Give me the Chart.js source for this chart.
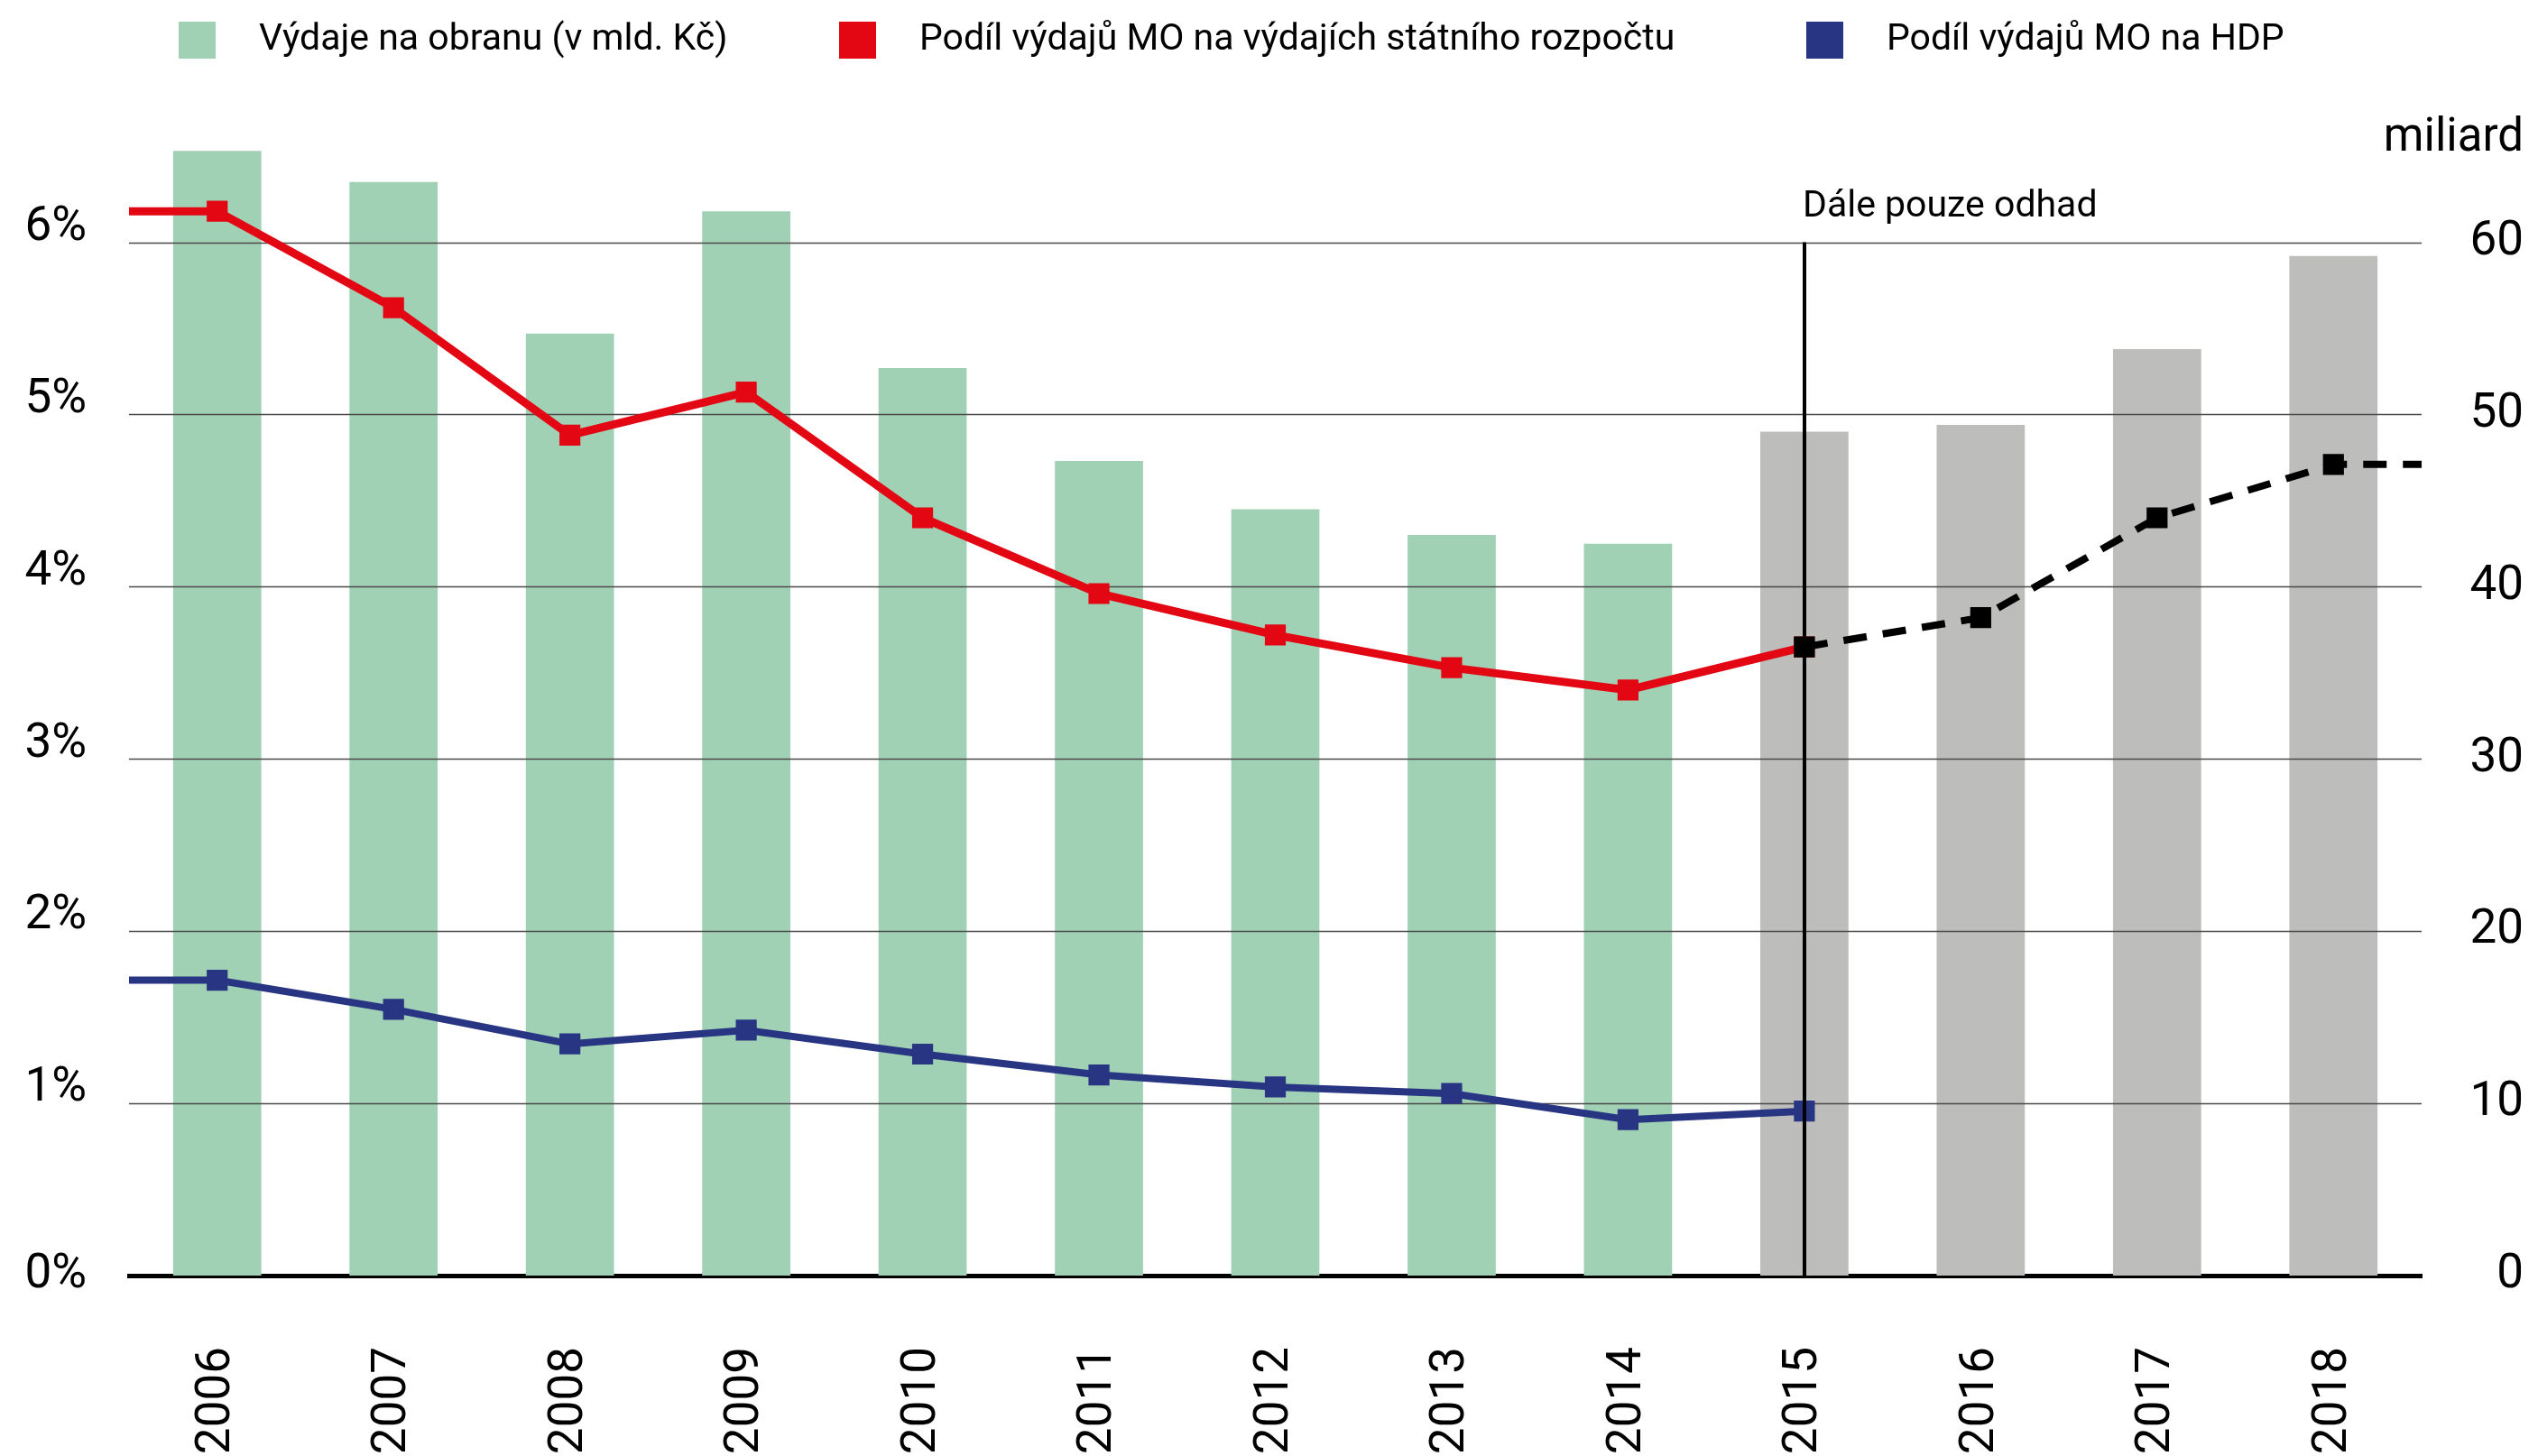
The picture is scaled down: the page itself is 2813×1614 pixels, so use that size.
<!DOCTYPE html>
<html>
<head>
<meta charset="utf-8">
<script src="https://cdn.jsdelivr.net/npm/chart.js@4.4.1/dist/chart.umd.min.js"></script>
<style>
  html, body { margin: 0; padding: 0; background: #ffffff; }
  canvas { display: block; }
</style>
</head>
<body>
<canvas id="chart" width="2813" height="1614"></canvas>
<script>
// ---------------- data ----------------
const years = ['2006','2007','2008','2009','2010','2011','2012','2013','2014','2015','2016','2017','2018'];
// Výdaje na obranu (mld. Kč)
const defenceSpending = [65.3, 63.5, 54.7, 61.8, 52.7, 47.3, 44.5, 43.0, 42.5, 49.0, 49.4, 53.8, 59.2];
// Podíl výdajů MO na výdajích státního rozpočtu (%), 2006–2015
const shareOfBudget = [6.18, 5.62, 4.88, 5.13, 4.40, 3.96, 3.72, 3.53, 3.40, 3.65];
// Odhad podílu na výdajích státního rozpočtu (%), 2015–2018
const shareOfBudgetForecast = [3.65, 3.82, 4.40, 4.71];
// Podíl výdajů MO na HDP (%), 2006–2015
const shareOfGdp = [1.715, 1.546, 1.345, 1.425, 1.286, 1.165, 1.095, 1.057, 0.905, 0.955];
const forecastStartYear = '2015';
const percentTicks = [0, 1, 2, 3, 4, 5, 6];
const billionTicks = [0, 10, 20, 30, 40, 50, 60];
const seriesLabels = [
  'Výdaje na obranu (v mld. Kč)',
  'Podíl výdajů MO na výdajích státního rozpočtu',
  'Podíl výdajů MO na HDP'
];
const forecastNote = 'Dále pouze odhad';
const rightAxisTitle = 'miliard';

// ---------------- styles ----------------
const GREEN = '#a1d1b5';
const GRAY = '#bdbdbc';
const RED = '#e30613';
const BLUE = '#283583';
const BLACK = '#000000';
const FONT = 'Roboto';

const forecastIdx = years.indexOf(forecastStartYear);

function pointsFrom(values, startIdx, extendLeft, extendRight) {
  const pts = values.map((v, i) => ({ x: startIdx + i, y: v }));
  if (extendLeft) pts.unshift({ x: startIdx - 0.5, y: values[0] });
  if (extendRight) pts.push({ x: startIdx + values.length - 0.5, y: values[values.length - 1] });
  return pts;
}

const markerRadius = (ctx) => (ctx.raw && Number.isInteger(ctx.raw.x)) ? 15 : 0;

// ---------------- plugins ----------------
const gridOverBars = {
  id: 'gridOverBars',
  afterDatasetDraw(chart, args) {
    if (args.meta.type !== 'bar') return;
    const { ctx, chartArea } = chart;
    const ys = chart.scales.y;
    ctx.save();
    ctx.strokeStyle = '#4a4a4a';
    ctx.lineWidth = 1.5;
    percentTicks.filter(v => v > 0).forEach(v => {
      const y = Math.round(ys.getPixelForValue(v)) + 0.5;
      ctx.beginPath();
      ctx.moveTo(chartArea.left, y);
      ctx.lineTo(chartArea.right, y);
      ctx.stroke();
    });
    ctx.restore();
  }
};

const forecastMarker = {
  id: 'forecastMarker',
  afterDatasetsDraw(chart) {
    const { ctx } = chart;
    const xs = chart.scales.x;
    const ys = chart.scales.y;
    const px = Math.round(xs.getPixelForValue(forecastIdx));
    const top = ys.getPixelForValue(percentTicks[percentTicks.length - 1]);
    const bottom = ys.getPixelForValue(0);
    ctx.save();
    ctx.strokeStyle = BLACK;
    ctx.lineWidth = 4;
    ctx.beginPath();
    ctx.moveTo(px, top);
    ctx.lineTo(px, bottom);
    ctx.stroke();
    ctx.fillStyle = BLACK;
    ctx.font = '41px ' + FONT;
    ctx.textAlign = 'left';
    ctx.textBaseline = 'alphabetic';
    ctx.fillText(forecastNote, px - 2, top - 29);
    ctx.restore();
  }
};

const headerTexts = {
  id: 'headerTexts',
  afterDraw(chart) {
    const { ctx } = chart;
    const y2 = chart.scales.y2;
    ctx.save();
    // right axis unit
    ctx.fillStyle = BLACK;
    ctx.font = '51px ' + FONT;
    ctx.textAlign = 'right';
    ctx.textBaseline = 'alphabetic';
    ctx.fillText(rightAxisTitle, y2.right, y2.getPixelForValue(billionTicks[billionTicks.length - 1]) - 102);
    // legend
    const legendX = [198, 930, 2002];
    const colors = [GREEN, RED, BLUE];
    ctx.font = '41px ' + FONT;
    ctx.textAlign = 'left';
    seriesLabels.forEach((label, i) => {
      ctx.fillStyle = colors[i];
      ctx.fillRect(legendX[i], 24, 41, 41);
      ctx.fillStyle = BLACK;
      ctx.fillText(label, legendX[i] + 89, 55);
    });
    ctx.restore();
  }
};

// ---------------- chart ----------------
const chart = new Chart(document.getElementById('chart'), {
  type: 'bar',
  data: {
    labels: years,
    datasets: [
      {
        type: 'line',
        label: 'odhad',
        data: pointsFrom(shareOfBudgetForecast, forecastIdx, false, true),
        xAxisID: 'xl',
        yAxisID: 'y',
        borderColor: BLACK,
        backgroundColor: BLACK,
        borderWidth: 8,
        borderDash: [26, 18],
        borderCapStyle: 'butt',
        pointStyle: 'rect',
        pointRadius: markerRadius,
        pointBorderWidth: 2,
        pointBorderColor: BLACK,
        pointBackgroundColor: BLACK,
        tension: 0,
        order: 0
      },
      {
        type: 'line',
        label: seriesLabels[1],
        data: pointsFrom(shareOfBudget, 0, true, false),
        xAxisID: 'xl',
        yAxisID: 'y',
        borderColor: RED,
        backgroundColor: RED,
        borderWidth: 9,
        borderJoinStyle: 'miter',
        pointStyle: 'rect',
        pointRadius: markerRadius,
        pointBorderWidth: 2,
        pointBorderColor: RED,
        pointBackgroundColor: RED,
        tension: 0,
        order: 2
      },
      {
        type: 'line',
        label: seriesLabels[2],
        data: pointsFrom(shareOfGdp, 0, true, false),
        xAxisID: 'xl',
        yAxisID: 'y',
        borderColor: BLUE,
        backgroundColor: BLUE,
        borderWidth: 8,
        borderJoinStyle: 'miter',
        pointStyle: 'rect',
        pointRadius: markerRadius,
        pointBorderWidth: 2,
        pointBorderColor: BLUE,
        pointBackgroundColor: BLUE,
        tension: 0,
        order: 1
      },
      {
        type: 'bar',
        label: seriesLabels[0],
        data: defenceSpending,
        xAxisID: 'x',
        yAxisID: 'y2',
        backgroundColor: years.map((y, i) => i >= forecastIdx ? GRAY : GREEN),
        borderWidth: 0,
        grouped: false,
        categoryPercentage: 1,
        barPercentage: 0.5,
        order: 10
      }
    ]
  },
  options: {
    responsive: false,
    animation: false,
    devicePixelRatio: 1,
    layout: { padding: { top: 154, right: 16, left: 0, bottom: 0 } },
    plugins: {
      legend: { display: false },
      tooltip: { enabled: false },
      title: { display: false }
    },
    scales: {
      x: {
        type: 'category',
        position: 'bottom',
        offset: true,
        z: 1,
        grid: { display: false, drawTicks: false },
        border: { display: true, color: BLACK, width: 5 },
        ticks: {
          autoSkip: false,
          maxRotation: 90,
          minRotation: 90,
          padding: 79,
          color: BLACK,
          font: { family: FONT, size: 53 }
        },
        afterFit: (s) => { s.height = 200; }
      },
      xl: {
        type: 'linear',
        display: false,
        offset: false,
        grid: { offset: false },
        bounds: 'data',
        min: -0.5,
        max: years.length - 0.5
      },
      y: {
        type: 'linear',
        position: 'left',
        min: 0,
        max: 6.6,
        grid: { display: false, drawTicks: false },
        border: { display: false },
        ticks: {
          stepSize: 1,
          padding: 47,
          color: BLACK,
          font: { family: FONT, size: 53, lineHeight: '32px' },
          callback: (v) => {
            if (!percentTicks.includes(v)) return null;
            return v === 0 ? v + '%' : [v + '%', ''];
          }
        },
        afterFit: (s) => { s.width = 143; }
      },
      y2: {
        type: 'linear',
        position: 'right',
        min: 0,
        max: 66,
        grid: { display: false, drawTicks: false },
        border: { display: false },
        ticks: {
          stepSize: 10,
          crossAlign: 'far',
          labelOffset: 0,
          padding: 10,
          color: BLACK,
          font: { family: FONT, size: 53 },
          callback: (v) => billionTicks.includes(v) ? String(v) : null
        },
        afterFit: (s) => { s.width = 113; }
      }
    }
  },
  plugins: [gridOverBars, forecastMarker, headerTexts]
});
</script>
</body>
</html>
